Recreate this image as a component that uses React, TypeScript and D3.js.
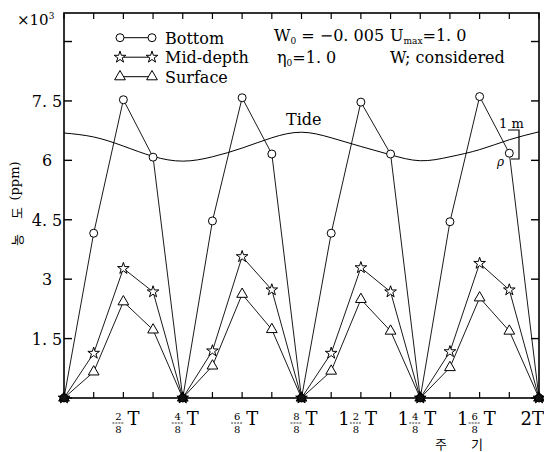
import React from 'react';
import * as d3 from 'd3';

// phase in eighths of the period T
const phase = [0, 1, 2, 3, 4, 5, 6, 7, 8, 9, 10, 11, 12, 13, 14, 15, 16];
const bottom = [0, 4.16, 7.53, 6.08, 0, 4.47, 7.58, 6.16, 0, 4.16, 7.47, 6.16, 0, 4.45, 7.61, 6.18, 0];
const midDepth = [0, 1.13, 3.27, 2.68, 0, 1.19, 3.57, 2.73, 0, 1.13, 3.29, 2.68, 0, 1.17, 3.4, 2.73, 0];
const surface = [0, 0.66, 2.43, 1.72, 0, 0.81, 2.62, 1.73, 0, 0.68, 2.49, 1.69, 0, 0.77, 2.53, 1.69, 0];
const tide = [6.69, 6.59, 6.36, 6.1, 5.98, 6.09, 6.31, 6.57, 6.71, 6.57, 6.35, 6.14, 5.99, 6.09, 6.27, 6.52, 6.72];

const yTicks = [0, 1.5, 3, 4.5, 6, 7.5, 9];
const yTickLabels = ['', '1. 5', '3', '4. 5', '6', '7. 5', ''];
const xTickPhases = [2, 4, 6, 8, 10, 12, 14, 16];
const xTickLabels = ['2/8 T', '4/8 T', '6/8 T', '8/8 T', '1 2/8 T', '1 4/8 T', '1 6/8 T', '2T'];
const legendLabels = ['Bottom', 'Mid-depth', 'Surface'];

const SERIF = '"DejaVu Serif", serif';
const KR = '"Noto Sans CJK KR", sans-serif';

export default function App() {
  const W = 544, H = 452;
  const left = 64, right = 539, top = 13, bot = 398;
  const x = d3.scaleLinear().domain([0, 16]).range([left, right]);
  const y = d3.scaleLinear().domain([0, 9.72]).range([bot, top]);

  const line = d3.line<number>().x((_, i) => x(phase[i])).y(d => y(d));
  const tideLine = d3.line<number>().x((_, i) => x(phase[i])).y(d => y(d)).curve(d3.curveNatural);

  const starPath = d3.symbol(d3.symbolStar, 42)() as string;
  const triPath = d3.symbol(d3.symbolTriangle, 50)() as string;

  const marker = (kind: string, cx: number, cy: number, key: string, dark = false) => {
    const fill = dark ? '#111' : '#fff';
    if (kind === 'circle') return <circle key={key} cx={cx} cy={cy} r={4} fill={fill} stroke="#000" strokeWidth={1} />;
    const p = kind === 'star' ? starPath : triPath;
    return <path key={key} d={p} transform={`translate(${cx},${cy})`} fill={fill} stroke="#000" strokeWidth={1} />;
  };

  const series = [
    { data: surface, kind: 'triangle' },
    { data: midDepth, kind: 'star' },
    { data: bottom, kind: 'circle' },
  ];

  const legendKinds = ['circle', 'star', 'triangle'];

  const renderXLabel = (label: string, px: number, i: number) => {
    const baseY = 425;
    if (!label.includes('/')) {
      return (
        <text key={i} x={544} y={baseY} textAnchor="end" fontFamily={SERIF} fontSize={18}>{label}</text>
      );
    }
    const parts = label.replace(' T', '').split(' ');
    const frac = parts[parts.length - 1];
    const whole = parts.length > 1 ? parts[0] : null;
    const [num, den] = frac.split('/');
    const fx = px - 5;
    return (
      <g key={i} fontFamily={SERIF}>
        {whole && <text x={fx - 12} y={baseY} textAnchor="middle" fontSize={18}>{whole}</text>}
        <text x={fx} y={420} textAnchor="middle" fontSize={10}>{num}</text>
        <line x1={fx - 6} x2={fx + 6} y1={423} y2={423} stroke="#000" strokeWidth={0.8} strokeDasharray="2,1" />
        <text x={fx} y={433} textAnchor="middle" fontSize={10}>{den}</text>
        <text x={px + 4} y={baseY} fontSize={18}>T</text>
      </g>
    );
  };

  return (
    <svg width={W} height={H} style={{ position: 'absolute', left: 0, top: 0, background: '#fff' }}>
      <rect x={0} y={0} width={W} height={H} fill="#fff" />
      {/* frame */}
      <rect x={left} y={top} width={right - left} height={bot - top} fill="none" stroke="#000" strokeWidth={1.6} />
      {/* y ticks */}
      {yTicks.map((t, i) => (
        <g key={'yt' + i}>
          <line x1={left} x2={left + 8} y1={y(t)} y2={y(t)} stroke="#000" strokeWidth={1.4} />
          <line x1={right} x2={right - 8} y1={y(t)} y2={y(t)} stroke="#000" strokeWidth={1.4} />
          {yTickLabels[i] && (
            <text x={47} y={y(t) + 6} textAnchor="middle" fontFamily={SERIF} fontSize={16}>{yTickLabels[i]}</text>
          )}
        </g>
      ))}
      {/* x ticks */}
      {phase.map((p, i) => (
        <g key={'xt' + i}>
          <line x1={x(p)} x2={x(p)} y1={bot} y2={bot - 6} stroke="#000" strokeWidth={1.2} />
          <line x1={x(p)} x2={x(p)} y1={top} y2={top + 6} stroke="#000" strokeWidth={1.2} />
        </g>
      ))}
      {xTickPhases.map((p, i) => renderXLabel(xTickLabels[i], x(p), i))}

      {/* tide */}
      <path d={tideLine(tide) as string} fill="none" stroke="#000" strokeWidth={1} />
      <text x={286} y={125} fontFamily={SERIF} fontSize={16}>Tide</text>
      <text x={499} y={128} fontFamily={SERIF} fontSize={13}>1 m</text>
      <path d="M508,130 H519 V159 H511" fill="none" stroke="#000" strokeWidth={1.2} />
      <text x={497} y={166} fontFamily={SERIF} fontSize={12} fontStyle="italic">ρ</text>

      {/* series */}
      {series.map((s, si) => (
        <g key={'s' + si}>
          <path d={line(s.data) as string} fill="none" stroke="#000" strokeWidth={0.9} />
        </g>
      ))}
      {series.map((s, si) => (
        <g key={'m' + si}>
          {s.data.map((v, i) => marker(s.kind, x(phase[i]), y(v), `${si}-${i}`, v === 0))}
        </g>
      ))}

      {/* legend */}
      {legendLabels.map((lab, i) => {
        const cy = 37.7 + i * 19.5;
        return (
          <g key={'lg' + i}>
            <line x1={120} x2={152} y1={cy} y2={cy} stroke="#000" strokeWidth={1} />
            {marker(legendKinds[i], 120, cy, 'a' + i)}
            {marker(legendKinds[i], 152, cy, 'b' + i)}
            <text x={165} y={cy + 6} fontFamily={SERIF} fontSize={16}>{lab}</text>
          </g>
        );
      })}

      {/* parameter annotations */}
      <text x={274} y={41} fontFamily={SERIF} fontSize={16}>
        W<tspan fontSize={9} dy={3}>0</tspan><tspan dy={-3}> = −0. 005</tspan>
      </text>
      <text x={390} y={41} fontFamily={SERIF} fontSize={16}>
        U<tspan fontSize={9} dy={3}>max</tspan><tspan dy={-3}>=1. 0</tspan>
      </text>
      <text x={277} y={63} fontFamily={SERIF} fontSize={16}>
        η<tspan fontSize={9} dy={3}>0</tspan><tspan dy={-3}>=1. 0</tspan>
      </text>
      <text x={390} y={63} fontFamily={SERIF} fontSize={16}>W; considered</text>

      {/* axis multiplier */}
      <text x={17} y={25} fontFamily={SERIF} fontSize={15}>
        ×10<tspan fontSize={9} dy={-6}>3</tspan>
      </text>

      {/* y axis title */}
      <text transform="translate(16,240) rotate(-90)" textAnchor="middle" dominantBaseline="central" fontFamily={KR} fontSize={13}>농</text>
      <text transform="translate(16,213) rotate(-90)" textAnchor="middle" dominantBaseline="central" fontFamily={KR} fontSize={13}>도</text>
      <text transform="translate(14,181) rotate(-90)" textAnchor="middle" dominantBaseline="central" fontFamily={SERIF} fontSize={13}>(ppm)</text>

      {/* x axis title */}
      <text x={441} y={449} textAnchor="middle" fontFamily={KR} fontSize={13}>주</text>
      <text x={477} y={449} textAnchor="middle" fontFamily={KR} fontSize={13}>기</text>
    </svg>
  );
}
